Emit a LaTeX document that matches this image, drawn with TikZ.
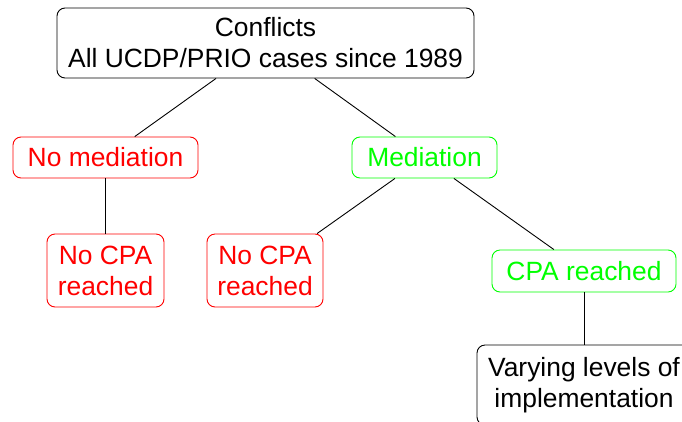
\documentclass[tikz,border=0pt]{standalone}
\usepackage{fontspec}
\setmainfont{Liberation Sans}
\definecolor{myred}{RGB}{255,0,0}
\definecolor{mygreen}{RGB}{0,255,0}
\begin{document}
\begin{tikzpicture}[x=1pt,y=-1pt,
  box/.style={draw, rounded corners=8pt, line width=0.9pt, align=center, inner sep=0pt,
    font=\fontsize{26.4}{31}\selectfont},
  redbox/.style={box, draw=myred, text=myred},
  greenbox/.style={box, draw=mygreen, text=mygreen},
  link/.style={line width=0.9pt, black}]
\useasboundingbox (0,0) rectangle (682,421);
\begin{scope}
\clip (0,0) rectangle (682,421);
\node[box, minimum width=417pt, minimum height=70pt] (conf) at (265.5,43) {Conflicts\\All UCDP/PRIO cases since 1989};
\node[redbox, minimum width=185pt, minimum height=41pt] (nomed) at (105.5,157.5) {No mediation};
\node[greenbox, minimum width=145pt, minimum height=41pt] (med) at (424.5,157.5) {Mediation};
\node[redbox, minimum width=117pt, minimum height=73pt] (nocpa1) at (105.5,270.5) {No CPA\\reached};
\node[redbox, minimum width=116pt, minimum height=73pt] (nocpa2) at (265,270.5) {No CPA\\reached};
\node[greenbox, minimum width=184pt, minimum height=42pt] (cpa) at (584,271) {CPA reached};
\node[box, minimum width=214pt, minimum height=80pt] (impl) at (584,385) {Varying levels of\\implementation};
\draw[link] (conf) -- (nomed);
\draw[link] (conf) -- (med);
\draw[link] (nomed) -- (nocpa1);
\draw[link] (med) -- (nocpa2);
\draw[link] (med) -- (cpa);
\draw[link] (cpa) -- (impl);
\end{scope}
\end{tikzpicture}
\end{document}
